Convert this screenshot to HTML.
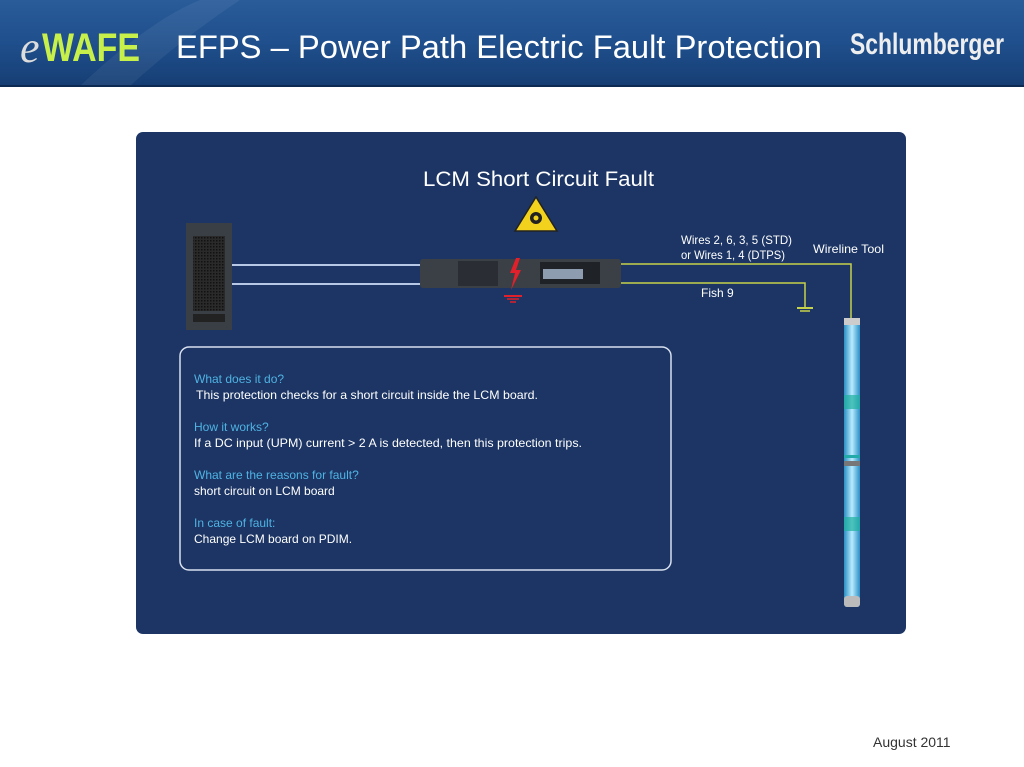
<!DOCTYPE html>
<html><head><meta charset="utf-8"><style>
html,body{margin:0;padding:0;width:1024px;height:767px;overflow:hidden;background:#fff;font-family:"Liberation Sans",sans-serif}
</style></head><body>
<svg width="1024" height="767" viewBox="0 0 1024 767" xmlns="http://www.w3.org/2000/svg" font-family="Liberation Sans, sans-serif">
<defs>
<linearGradient id="hd" x1="0" y1="0" x2="0" y2="1"><stop offset="0" stop-color="#2a5c9a"/><stop offset="0.5" stop-color="#1f4f8c"/><stop offset="1" stop-color="#163e74"/></linearGradient>
<linearGradient id="tool" x1="0" y1="0" x2="1" y2="0"><stop offset="0" stop-color="#2a8fc4"/><stop offset="0.5" stop-color="#b8ecff"/><stop offset="1" stop-color="#2a8fc4"/></linearGradient>
<pattern id="grid" width="3" height="3" patternUnits="userSpaceOnUse"><rect width="3" height="3" fill="#2a2a2a"/><rect width="1.5" height="1.5" fill="#111"/></pattern>
</defs>
<rect x="0" y="0" width="1024" height="86" fill="url(#hd)"/>
<path d="M80 86 Q150 20 200 0 L240 0 Q180 40 130 86Z" fill="#ffffff" opacity="0.06"/>
<rect x="0" y="85" width="1024" height="2" fill="#0d2a52"/>
<text x="20" y="62" font-size="44" font-style="italic" fill="#ddd" font-family="Liberation Serif, serif">e</text>
<text x="42" y="61" font-size="40" font-weight="bold" fill="#c8f04a" textLength="98" lengthAdjust="spacingAndGlyphs">WAFE</text>
<text x="176" y="58" font-size="32" fill="#fff" textLength="646" lengthAdjust="spacingAndGlyphs">EFPS – Power Path Electric Fault Protection</text>
<text x="850" y="54" font-size="30" font-weight="bold" fill="#eee" textLength="154" lengthAdjust="spacingAndGlyphs">Schlumberger</text>

<rect x="136" y="132" width="770" height="502" rx="7" fill="#1c3564"/>
<text x="423" y="186" font-size="21" fill="#fff" textLength="231" lengthAdjust="spacingAndGlyphs">LCM Short Circuit Fault</text>
<polygon points="536,197 557,231 515,231" fill="#f2d21c" stroke="#222" stroke-width="1.5"/>
<circle cx="536" cy="218" r="6" fill="#222"/><circle cx="536" cy="218" r="2.5" fill="#f2d21c"/>

<rect x="186" y="223" width="46" height="107" fill="#3a3e45"/>
<rect x="193" y="236" width="32" height="75" fill="url(#grid)"/>
<rect x="193" y="314" width="32" height="8" fill="#222"/>
<line x1="232" y1="265" x2="425" y2="265" stroke="#b7c8e6" stroke-width="2"/>
<line x1="232" y1="284" x2="425" y2="284" stroke="#b7c8e6" stroke-width="2"/>
<rect x="420" y="259" width="201" height="29" rx="3" fill="#3b3f46"/>
<rect x="458" y="261" width="40" height="25" fill="#2a2d33"/>
<rect x="540" y="262" width="60" height="22" fill="#1f2226"/>
<rect x="543" y="269" width="40" height="10" fill="#8e9cb0"/>
<path d="M516 258 L510 273 L515 273 L511 290 L521 270 L516 270 L520 258Z" fill="#e0202a"/>
<line x1="504" y1="296" x2="522" y2="296" stroke="#e0202a" stroke-width="2"/>
<line x1="507" y1="299" x2="519" y2="299" stroke="#e0202a" stroke-width="1.5"/>
<line x1="510" y1="302" x2="516" y2="302" stroke="#e0202a" stroke-width="1.5"/>
<polyline points="621,264 851,264 851,318" fill="none" stroke="#c6d24a" stroke-width="1.5"/>
<polyline points="621,283 805,283 805,307" fill="none" stroke="#c6d24a" stroke-width="1.5"/>
<line x1="797" y1="308" x2="813" y2="308" stroke="#c6d24a" stroke-width="2"/>
<line x1="800" y1="311" x2="810" y2="311" stroke="#c6d24a" stroke-width="1.5"/>
<text x="681" y="244" font-size="12" fill="#fff" textLength="111" lengthAdjust="spacingAndGlyphs">Wires 2,  6, 3, 5 (STD)</text>
<text x="681" y="259" font-size="12" fill="#fff" textLength="104" lengthAdjust="spacingAndGlyphs">or Wires 1, 4 (DTPS)</text>
<text x="813" y="253" font-size="12" fill="#fff" textLength="71" lengthAdjust="spacingAndGlyphs">Wireline Tool</text>
<text x="701" y="297" font-size="12" fill="#fff">Fish 9</text>
<rect x="844" y="318" width="16" height="289" rx="3" fill="url(#tool)"/>
<rect x="844" y="318" width="16" height="7" fill="#ccc"/>
<rect x="844" y="596" width="16" height="11" rx="3" fill="#bbb"/>
<rect x="844" y="395" width="16" height="14" fill="#1fb0a0" opacity="0.7"/>
<rect x="844" y="455" width="16" height="3" fill="#2aa"/>
<rect x="844" y="461" width="16" height="5" fill="#777"/>
<rect x="844" y="517" width="16" height="14" fill="#1fb0a0" opacity="0.7"/>
<rect x="180" y="347" width="491" height="223" rx="9" fill="none" stroke="#d8e0ee" stroke-width="1.5"/>
<g font-size="12">
<text x="194" y="383" fill="#4fb3e3">What does it do?</text>
<text x="196" y="399" fill="#fff" textLength="342" lengthAdjust="spacingAndGlyphs">This protection checks for a short circuit inside the LCM board.</text>
<text x="194" y="431" fill="#4fb3e3">How it works?</text>
<text x="194" y="447" fill="#fff" textLength="388" lengthAdjust="spacingAndGlyphs">If a DC input (UPM) current &gt; 2 A is detected, then this protection trips.</text>
<text x="194" y="479" fill="#4fb3e3">What are the reasons for fault?</text>
<text x="194" y="495" fill="#fff">short circuit on LCM board</text>
<text x="194" y="527" fill="#4fb3e3">In case of fault:</text>
<text x="194" y="543" fill="#fff">Change LCM board on PDIM.</text>
</g>
<text x="873" y="747" font-size="14" fill="#333">August 2011</text>
</svg>
</body></html>
